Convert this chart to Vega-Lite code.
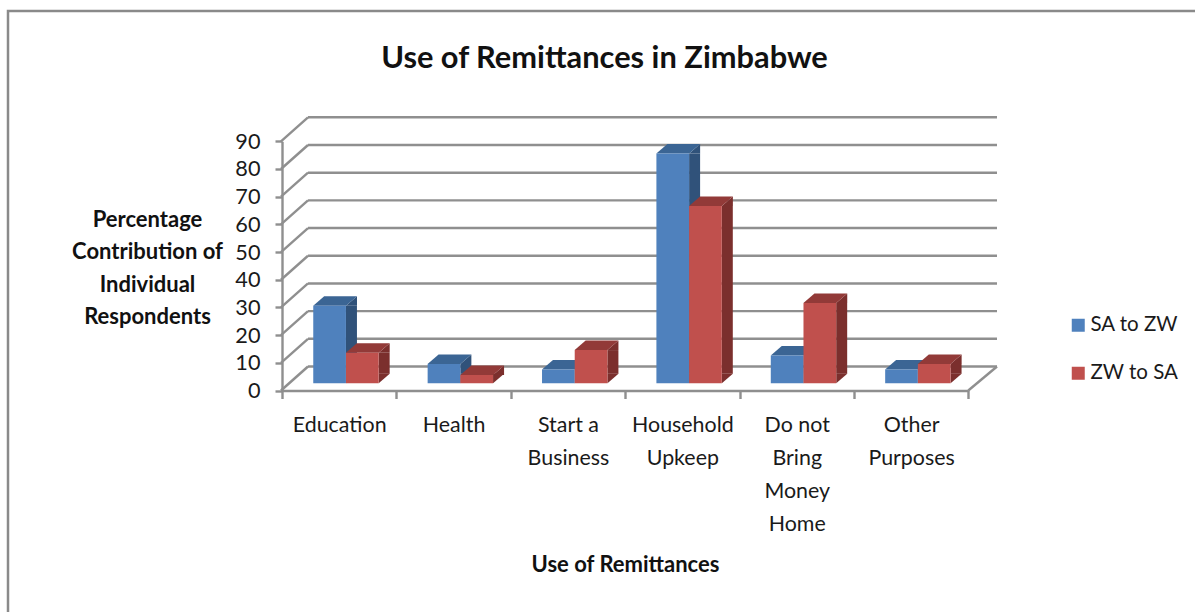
{
  "$schema": "https://vega.github.io/schema/vega-lite/v6.json",
  "width": 1195,
  "height": 610,
  "autosize": "none",
  "padding": {"left": 8, "top": 11, "right": 0, "bottom": 0},
  "background": "white",
  "view": {"stroke": "#8a8a8a", "strokeWidth": 2.5, "fill": "white"},
  "config": {"font": "Lato"},
  "title": {
    "text": "Use of Remittances in Zimbabwe",
    "font": "Lato", "fontSize": 30.8, "fontWeight": "bold", "color": "#111111",
    "anchor": "middle", "frame": "group", "baseline": "alphabetic", "dy": 88, "dx": -1, "offset": 0
  },
  "datasets": {
    "remittances": [
      {"use": "Education", "series": "SA to ZW", "value": 28},
      {"use": "Health", "series": "SA to ZW", "value": 7},
      {"use": "Start a Business", "series": "SA to ZW", "value": 5},
      {"use": "Household Upkeep", "series": "SA to ZW", "value": 83},
      {"use": "Do not Bring Money Home", "series": "SA to ZW", "value": 10},
      {"use": "Other Purposes", "series": "SA to ZW", "value": 5},
      {"use": "Education", "series": "ZW to SA", "value": 11},
      {"use": "Health", "series": "ZW to SA", "value": 3},
      {"use": "Start a Business", "series": "ZW to SA", "value": 12},
      {"use": "Household Upkeep", "series": "ZW to SA", "value": 64},
      {"use": "Do not Bring Money Home", "series": "ZW to SA", "value": 29},
      {"use": "Other Purposes", "series": "ZW to SA", "value": 7}
    ],
    "gridlines": [
      {"v": 0}, {"v": 10}, {"v": 20}, {"v": 30}, {"v": 40},
      {"v": 50}, {"v": 60}, {"v": 70}, {"v": 80}, {"v": 90}
    ],
    "floorEdge": [{"v": 0}]
  },
  "resolve": {"scale": {"x": "independent", "y": "independent", "xOffset": "independent", "color": "independent"}},
  "layer": [
    {
      "data": {"name": "gridlines"},
      "mark": {"type": "rule", "stroke": "#8f8f8f", "strokeWidth": 2.4, "yOffset": -24, "y2Offset": -24},
      "encoding": {
        "x": {"datum": 0, "type": "quantitative", "axis": null, "scale": {"domain": [0, 1], "range": [300, 989]}},
        "x2": {"datum": 1},
        "y": {"field": "v", "type": "quantitative", "axis": null, "scale": {"domain": [0, 90], "range": [379.5, 130.3]}},
        "y2": {"field": "v"}
      }
    },
    {
      "data": {"name": "gridlines"},
      "mark": {"type": "rule", "stroke": "#8f8f8f", "strokeWidth": 2.4, "y2Offset": -24},
      "encoding": {
        "x": {"datum": 0, "type": "quantitative", "axis": null, "scale": {"domain": [0, 1], "range": [273, 300]}},
        "x2": {"datum": 1},
        "y": {"field": "v", "type": "quantitative", "axis": null, "scale": {"domain": [0, 90], "range": [379.5, 130.3]}},
        "y2": {"field": "v"}
      }
    },
    {
      "data": {"name": "floorEdge"},
      "mark": {"type": "rule", "stroke": "#8f8f8f", "strokeWidth": 2.4, "y2Offset": -24},
      "encoding": {
        "x": {"datum": 0, "type": "quantitative", "axis": null, "scale": {"domain": [0, 1], "range": [960.3, 989]}},
        "x2": {"datum": 1},
        "y": {"field": "v", "type": "quantitative", "axis": null, "scale": {"domain": [0, 90], "range": [379.5, 130.3]}},
        "y2": {"field": "v"}
      }
    },
    {
      "data": {"name": "remittances"},
      "mark": {"type": "bar", "yOffset": -7.2, "y2Offset": -16.7, "size": 11},
      "encoding": {
        "x": {"field": "use", "type": "nominal", "sort": null, "axis": null, "scale": {"type": "band", "range": [274, 960.3], "paddingInner": 0, "paddingOuter": 0}},
        "xOffset": {"field": "series", "type": "nominal", "sort": ["SA to ZW", "ZW to SA"], "scale": {"paddingInner": 0, "paddingOuter": 0.748, "range": [28.65, 142.95]}},
        "y": {"field": "value", "type": "quantitative", "axis": null, "scale": {"domain": [0, 90], "range": [379.5, 130.3]}},
        "y2": {"datum": 0},
        "color": {"field": "series", "type": "nominal", "legend": null, "scale": {"domain": ["SA to ZW", "ZW to SA"], "range": ["#30527A", "#7B2F2D"]}}
      }
    },
    {
      "data": {"name": "remittances"},
      "resolve": {"scale": {"color": "independent"}},
      "encoding": {
        "x": {
          "field": "use", "type": "nominal", "sort": null,
          "scale": {"type": "band", "range": [274, 960.3], "paddingInner": 0, "paddingOuter": 0},
          "axis": {
            "title": "Use of Remittances",
            "titleFont": "Lato", "titleFontSize": 22, "titleFontWeight": "bold", "titleColor": "#111111",
            "titleAnchor": null, "titleAlign": "center", "titleBaseline": "middle", "titleX": 617, "titleY": 174,
            "offset": -230.5,
            "domainColor": "#8f8f8f", "domainWidth": 2.4,
            "tickColor": "#8f8f8f", "tickWidth": 2.4, "tickSize": 8, "tickBand": "extent",
            "labelFont": "Lato", "labelFontSize": 21.4, "labelColor": "#1a1a1a", "labelAngle": 0,
            "labelAlign": "center", "labelBaseline": "top", "labelPadding": 16, "labelLineHeight": 33,
            "labelLimit": 0, "labelOverlap": false,
            "labelExpr": "datum.label == 'Start a Business' ? ['Start a', 'Business'] : datum.label == 'Household Upkeep' ? ['Household', 'Upkeep'] : datum.label == 'Do not Bring Money Home' ? ['Do not', 'Bring', 'Money', 'Home'] : datum.label == 'Other Purposes' ? ['Other', 'Purposes'] : datum.label"
          }
        },
        "xOffset": {
          "field": "series", "type": "nominal", "sort": ["SA to ZW", "ZW to SA"],
          "scale": {"paddingInner": 0, "paddingOuter": 0.748, "range": [6.8, 121.1]}
        },
        "y": {
          "field": "value", "type": "quantitative",
          "scale": {"domain": [0, 90], "range": [379.5, 130.3]},
          "axis": {
            "title": ["Percentage", "Contribution of", "Individual", "Respondents"],
            "titleFont": "Lato", "titleFontSize": 22, "titleFontWeight": "bold", "titleColor": "#111111",
            "titleAngle": 0, "titleAlign": "center", "titleBaseline": "middle", "titleLineHeight": 32.5,
            "titleX": -135, "titleY": 208,
            "offset": -274, "values": [0, 10, 20, 30, 40, 50, 60, 70, 80, 90],
            "domainColor": "#8f8f8f", "domainWidth": 2.4,
            "tickColor": "#8f8f8f", "tickWidth": 2.4, "tickSize": 7,
            "labelFont": "Lato", "labelFontSize": 21.7, "labelColor": "#1a1a1a", "labelPadding": 15,
            "grid": false
          }
        }
      },
      "layer": [
        {
          "mark": {"type": "point", "filled": true, "opacity": 1, "size": 4, "yOffset": -7.2, "shape": "M16.4,0 L27.4,-9.5 L27.4,0 Z"},
          "encoding": {
            "color": {"field": "series", "type": "nominal", "legend": null, "scale": {"domain": ["SA to ZW", "ZW to SA"], "range": ["#30527A", "#7B2F2D"]}}
          }
        },
        {
          "mark": {"type": "point", "filled": true, "opacity": 1, "size": 4, "yOffset": -7.2, "shape": "M16.4,-9.5 L27.4,-9.5 L16.4,0 Z"},
          "encoding": {
            "y": {"datum": 0, "type": "quantitative"},
            "color": {"field": "series", "type": "nominal", "legend": null, "scale": {"domain": ["SA to ZW", "ZW to SA"], "range": ["#30527A", "#7B2F2D"]}}
          }
        },
        {
          "mark": {"type": "point", "filled": true, "opacity": 1, "size": 4, "yOffset": -7.2, "shape": "M-16.4,0 L16.4,0 L27.4,-9.5 L-5.4,-9.5 Z"},
          "encoding": {
            "color": {"field": "series", "type": "nominal", "legend": null, "scale": {"domain": ["SA to ZW", "ZW to SA"], "range": ["#3B6594", "#923A38"]}}
          }
        },
        {
          "mark": {"type": "bar", "yOffset": -7.2, "y2Offset": -7.2},
          "encoding": {
            "y2": {"datum": 0},
            "color": {
              "field": "series", "type": "nominal",
              "scale": {"domain": ["SA to ZW", "ZW to SA"], "range": ["#4F81BD", "#C0504D"]},
              "legend": {
                "title": null, "orient": "none", "legendX": 1060, "legendY": 304,
                "symbolType": "square", "symbolSize": 169, "symbolStrokeWidth": 0, "symbolOpacity": 1,
                "labelFont": "Lato", "labelFontSize": 20.5, "labelColor": "#1a1a1a", "labelOffset": 2,
                "rowPadding": 27, "labelLimit": 200
              }
            }
          }
        }
      ]
    }
  ]
}
